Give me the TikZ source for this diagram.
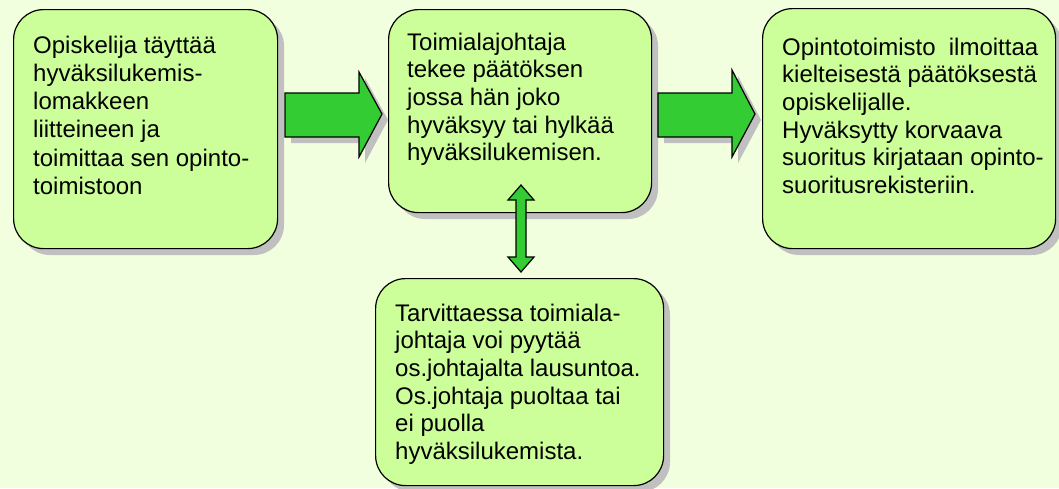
\documentclass[tikz,border=0pt]{standalone}
\usepackage{fontspec}
\setmainfont{Liberation Sans}
\definecolor{bg}{HTML}{F2FFDF}
\definecolor{boxfill}{HTML}{CCFF99}
\definecolor{arrfill}{HTML}{33CC33}
\definecolor{shadowc}{HTML}{C0C0C0}
\begin{document}
\begin{tikzpicture}[x=1pt,y=-1pt,
  stepbox/.style={draw=black,line width=1.2pt,fill=boxfill,rounded corners=30pt},
  shadowbox/.style={fill=shadowc,rounded corners=30pt},
  blockarrow/.style={draw=black,line width=1.2pt,fill=arrfill,line join=miter},
  arrshadow/.style={fill=shadowc},
  boxtext/.style={anchor=base west,inner sep=0pt,font=\fontsize{24}{27.7}\selectfont}]
\useasboundingbox (0,0) rectangle (1059,488);
\fill[bg] (0,0) rectangle (1059,488);
% shadows
\fill[shadowbox] (20,16) rectangle (284,255);
\fill[shadowbox] (395,16) rectangle (658,219);
\fill[shadowbox] (769,15) rectangle (1062,255);
\fill[shadowbox] (382,285) rectangle (670,492);
\fill[arrshadow] (291,99) -- (365,99) -- (365,78) -- (388,120) -- (365,163) -- (365,143) -- (291,143) -- cycle;
\fill[arrshadow] (664,99) -- (738,99) -- (738,76) -- (761,120) -- (738,163) -- (738,143) -- (664,143) -- cycle;
% boxes
\node[stepbox,minimum width=264pt,minimum height=239pt,anchor=north west,inner sep=0pt] (b1) at (13,9) {};
\node[stepbox,minimum width=263pt,minimum height=203pt,anchor=north west,inner sep=0pt] (b2) at (388,9) {};
\node[stepbox,minimum width=293pt,minimum height=240pt,anchor=north west,inner sep=0pt] (b3) at (762,8) {};
\node[stepbox,minimum width=288pt,minimum height=207pt,anchor=north west,inner sep=0pt] (b4) at (375,278) {};
% texts
\node[boxtext,font=\fontsize{24}{28.3}\selectfont] (t1) at (33,53) {\parbox[t]{240pt}{\raggedright Opiskelija täyttää\\hyväksilukemis-\\lomakkeen\\liitteineen ja\\toimittaa sen opinto-\\toimistoon}};
\node[boxtext] (t2) at (407,50) {\parbox[t]{240pt}{\raggedright Toimialajohtaja\\tekee päätöksen\\jossa hän joko\\hyväksyy tai hylkää\\hyväksilukemisen.}};
\node[boxtext] (t3) at (782,55) {\parbox[t]{270pt}{\raggedright Opintotoimisto~ ilmoittaa\\kielteisestä päätöksestä\\opiskelijalle.\\Hyväksytty korvaava\\suoritus kirjataan opinto-\\suoritusrekisteriin.}};
\node[boxtext] (t4) at (395,321) {\parbox[t]{270pt}{\raggedright Tarvittaessa toimiala-\\johtaja voi pyytää\\os.johtajalta lausuntoa.\\Os.johtaja puoltaa tai\\ei puolla\\hyväksilukemista.}};
% block arrows
\draw[blockarrow] (285,93) -- (359,93) -- (359,72) -- (382,114) -- (359,157) -- (359,137) -- (285,137) -- cycle;
\draw[blockarrow] (658,93) -- (732,93) -- (732,70) -- (755,114) -- (732,157) -- (732,137) -- (658,137) -- cycle;
\draw[blockarrow] (521,185) -- (534,200) -- (526,200) -- (526,257) -- (534,257) -- (521,272) -- (508,257) -- (516,257) -- (516,200) -- (508,200) -- cycle;
\end{tikzpicture}
\end{document}
